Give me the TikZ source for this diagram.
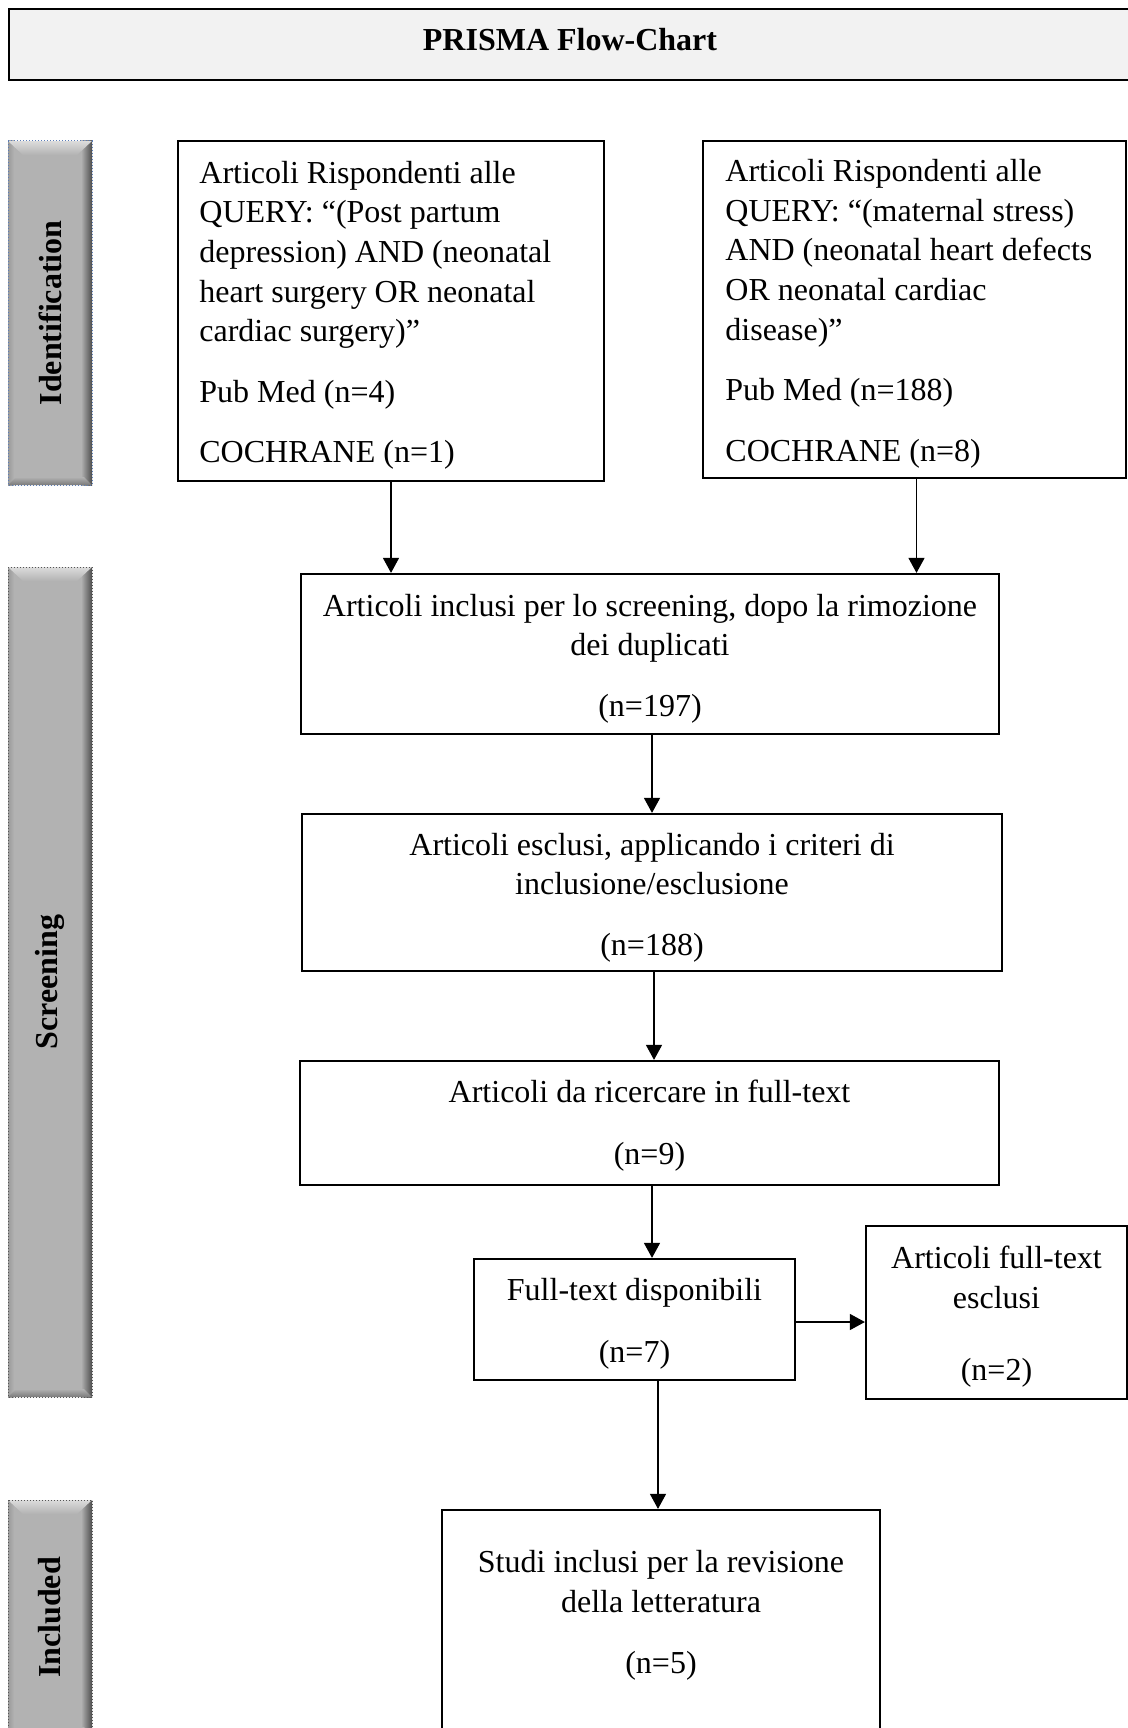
\documentclass[tikz,border=0pt]{standalone}
\usepackage{fontspec}
\setmainfont{Liberation Serif}
\usetikzlibrary{arrows.meta}
\definecolor{hdrfill}{HTML}{F2F2F2}
\definecolor{barmain}{HTML}{B2B2B2}
\definecolor{bardark}{HTML}{4D4D4D}
\definecolor{barleft}{HTML}{9A9A9A}
\definecolor{bartop}{HTML}{DCDCDC}
\definecolor{barbot}{HTML}{7A7A7A}
\definecolor{barblue}{HTML}{5B7DB8}
\definecolor{bargray}{HTML}{555555}
\tikzset{
  box/.style={draw=black, line width=1.1pt, rectangle, inner sep=0pt},
  boxtext/.style={inner sep=0pt, font=\fontsize{16}{19.8}\selectfont},
  arr/.style={-{Triangle[length=7.5pt,width=8pt]}, line width=0.6pt},
  barlabel/.style={rotate=90, inner sep=0pt, font=\fontsize{16}{19.8}\selectfont\bfseries},
  titlefont/.style={inner sep=0pt, font=\fontsize{16}{19.8}\selectfont\bfseries},
}
\newcommand{\mysidebar}[7]{%
  \fill[barmain] (#2,#3) rectangle (#4,#5);
  \shade[left color=barmain, right color=bardark] ({#4-11},{#3}) rectangle (#4,#5);
  \shade[left color=barleft, right color=barmain] (#2,#3) rectangle ({#2+6},#5);
  \shade[top color=bartop, bottom color=barmain] (#2,#3) -- (#4,#3) -- ({#4-15},{#3+14}) -- ({#2+15},{#3+14}) -- cycle;
  \shade[top color=barmain, bottom color=barbot] ({#2+8},{#5-8}) -- ({#4-8},{#5-8}) -- (#4,#5) -- (#2,#5) -- cycle;
  \draw[#7, densely dotted, line width=0.5pt] (#2,#3) rectangle (#4,#5);
  \node[barlabel] (#1) at ({(#2+#4)/2},{(#3+#5)/2}) {#6};
}
\begin{document}
\begin{tikzpicture}[x=0.5pt,y=-0.5pt]
\useasboundingbox (0,0) rectangle (1128,1728);

% header
\node[draw=black, line width=1.1pt, fill=hdrfill, minimum width=561.5pt, minimum height=35.5pt, inner sep=0pt] (hdr) at (570.5,44.5) {};
\node[titlefont] (title) at (570,40) {PRISMA Flow-Chart};

% side bars
\mysidebar{sbid}{8}{141}{92}{485}{Identification}{barblue}
\mysidebar{sbscr}{8}{567}{92}{1397}{Screening}{bargray}
\mysidebar{sbinc}{8}{1500}{92}{1735}{Included}{bargray}

% boxes
\node[box, minimum width=213pt, minimum height=170pt] (b1) at (391,311) {};
\node[boxtext, align=left, anchor=west] (b1t) at (199,315.4)
  {Articoli Rispondenti alle\\ QUERY: “(Post partum\\ depression) AND (neonatal\\ heart surgery OR neonatal\\ cardiac surgery)”\\[10.5pt] Pub Med (n=4)\\[10.5pt] COCHRANE (n=1)};
\node[box, minimum width=211.5pt, minimum height=168.5pt] (b2) at (914.5,309.5) {};
\node[boxtext, align=left, anchor=west] (b2t) at (725,313.9)
  {Articoli Rispondenti alle\\ QUERY: “(maternal stress)\\ AND (neonatal heart defects\\ OR neonatal cardiac\\ disease)”\\[10.5pt] Pub Med (n=188)\\[10.5pt] COCHRANE (n=8)};
\node[box, minimum width=349pt, minimum height=80pt] (b3) at (650,654) {};
\node[boxtext, align=center] (b3t) at (650,658.4)
  {Articoli inclusi per lo screening, dopo la rimozione\\ dei duplicati\\[10.5pt] (n=197)};
\node[box, minimum width=350pt, minimum height=78.5pt] (b4) at (652,892.5) {};
\node[boxtext, align=center] (b4t) at (652,897.5)
  {Articoli esclusi, applicando i criteri di\\ inclusione/esclusione\\[10.5pt] (n=188)};
\node[box, minimum width=349.5pt, minimum height=62pt] (b5) at (649.5,1123) {};
\node[boxtext, align=center] (b5t) at (649.5,1125.5)
  {Articoli da ricercare in full-text\\[11pt] (n=9)};
\node[box, minimum width=160.5pt, minimum height=60.5pt] (b6) at (634.5,1319.5) {};
\node[boxtext, align=center] (b6t) at (634.5,1323.9)
  {Full-text disponibili\\[11pt] (n=7)};
\node[box, minimum width=130.5pt, minimum height=86.5pt] (b7) at (996.5,1312.5) {};
\node[boxtext, align=center] (b7t) at (996.5,1316.9)
  {Articoli full-text\\ esclusi\\[16.5pt] (n=2)};
\node[box, minimum width=219pt, minimum height=115pt] (b8) at (661,1625) {};
\node[boxtext, align=center] (b8t) at (661,1615.4)
  {Studi inclusi per la revisione\\ della letteratura\\[11pt] (n=5)};

% arrows
\draw[arr] (b1.south) -- (b1.south |- b3.north);
\draw[arr] ([xshift=1pt]b2.south) -- ([xshift=1pt]b2.south |- b3.north);
\draw[arr] (b3.south -| b4.north) -- (b4.north);
\draw[arr] ([xshift=1pt]b4.south) -- ([xshift=1pt]b4.south |- b5.north);
\draw[arr] ([xshift=1.25pt]b5.south) -- ([xshift=1.25pt]b5.south |- b6.north);
\draw[arr] ([yshift=-1.25pt]b6.east) -- ([yshift=-1.25pt]b6.east -| b7.west);
\draw[arr] ([xshift=-1.5pt]b8.north |- b6.south) -- ([xshift=-1.5pt]b8.north);
\end{tikzpicture}
\end{document}
